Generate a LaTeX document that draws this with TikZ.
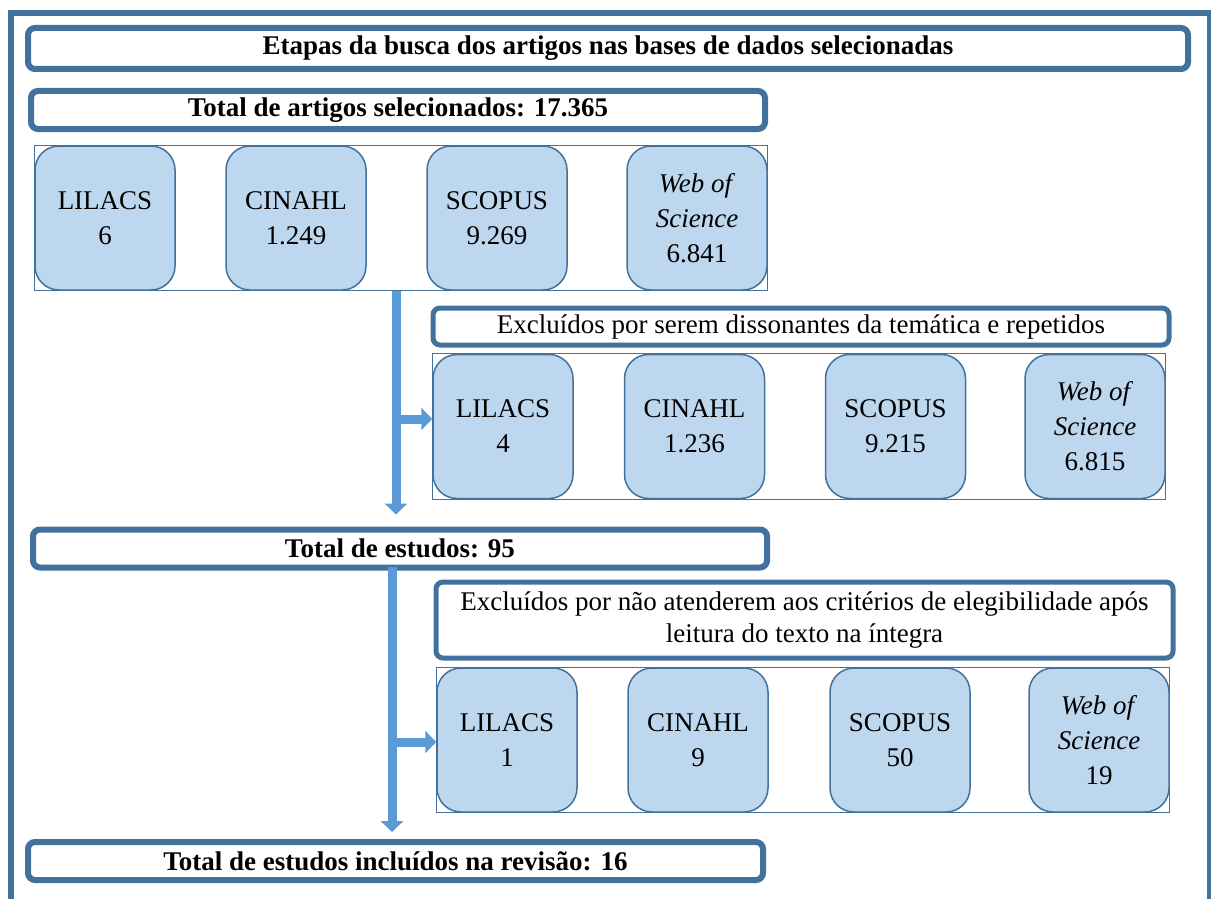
\documentclass[tikz,border=0pt]{standalone}
\usepackage{fontspec}
\setmainfont{Liberation Serif}
\usetikzlibrary{arrows.meta,backgrounds}
\definecolor{frameblue}{RGB}{65,113,156}
\definecolor{boxblue}{RGB}{189,215,238}
\definecolor{arrowblue}{RGB}{91,155,213}
\begin{document}
\begin{tikzpicture}[x=1pt,y=-1pt,font=\fontsize{27}{35}\selectfont,
head/.style={draw=frameblue,line width=6pt,rounded corners=7pt,fill=white,inner sep=0pt,minimum width=734pt,minimum height=38pt},
base/.style={draw=frameblue,line width=1.5pt,rounded corners=24pt,fill=boxblue,inner sep=0pt,minimum width=140pt,minimum height=144pt,align=center},
group/.style={draw=frameblue,line width=1.2pt},
bigarrow/.style={draw=arrowblue,line width=9pt,-{Triangle[width=22pt,length=11pt]}}]
\clip (0,0) rectangle (1211,899);
\draw[frameblue,line width=6pt] (11,13) rectangle (1209.5,950);
\node[head,minimum width=1160pt,minimum height=41pt] (title) at (608,48.5) {\bfseries Etapas da busca dos artigos nas bases de dados selecionadas};
\node[head] (sel) at (398,110) {\bfseries Total de artigos selecionados: 17.365};
\node[base] (l1) at (105,218) {LILACS\\6};
\node[base] (c1) at (296,218) {CINAHL\\1.249};
\node[base] (s1) at (497,218) {SCOPUS\\9.269};
\node[base] (w1) at (697,218) {\textit{Web of}\\\textit{Science}\\6.841};
\node[head,line width=5pt,minimum width=736pt,minimum height=37pt] (exc1) at (801,326.5) {Excluídos por serem dissonantes da temática e repetidos};
\node[base] (l2) at (503,426.5) {LILACS\\4};
\node[base] (c2) at (694.5,426.5) {CINAHL\\1.236};
\node[base] (s2) at (895.5,426.5) {SCOPUS\\9.215};
\node[base] (w2) at (1095,426.5) {\textit{Web of}\\\textit{Science}\\6.815};
\node[head] (est) at (400,548.5) {\bfseries Total de estudos: 95};
\node[head,line width=5pt,minimum width=737pt,minimum height=76pt,align=center] (exc2) at (804.5,620) {Excluídos por não atenderem aos critérios de elegibilidade após\\[-3pt]leitura do texto na íntegra};
\node[base] (l3) at (507,740) {LILACS\\1};
\node[base] (c3) at (698,740) {CINAHL\\9};
\node[base] (s3) at (900,740) {SCOPUS\\50};
\node[base] (w3) at (1099,740) {\textit{Web of}\\\textit{Science}\\19};
\node[head,minimum width=735pt] (incl) at (395.5,861) {\bfseries Total de estudos incluídos na revisão: 16};
\begin{scope}[on background layer]
\draw[group] (l1.north west) rectangle (w1.south east);
\draw[group] (l2.north west) rectangle (w2.south east);
\draw[group] (l3.north west) rectangle (w3.south east);
\end{scope}
\coordinate (v1) at (396,291);
\coordinate (h1) at (396,419);
\coordinate (v2) at (392,567);
\coordinate (h2) at (392,742);
\draw[bigarrow,shorten >=12pt] (v1) -- (v1 |- est.north);
\draw[bigarrow] (h1) -- (h1 -| l2.west);
\draw[bigarrow,shorten >=7pt] (v2) -- (v2 |- incl.north);
\draw[bigarrow] (h2) -- (h2 -| l3.west);
\end{tikzpicture}
\end{document}
